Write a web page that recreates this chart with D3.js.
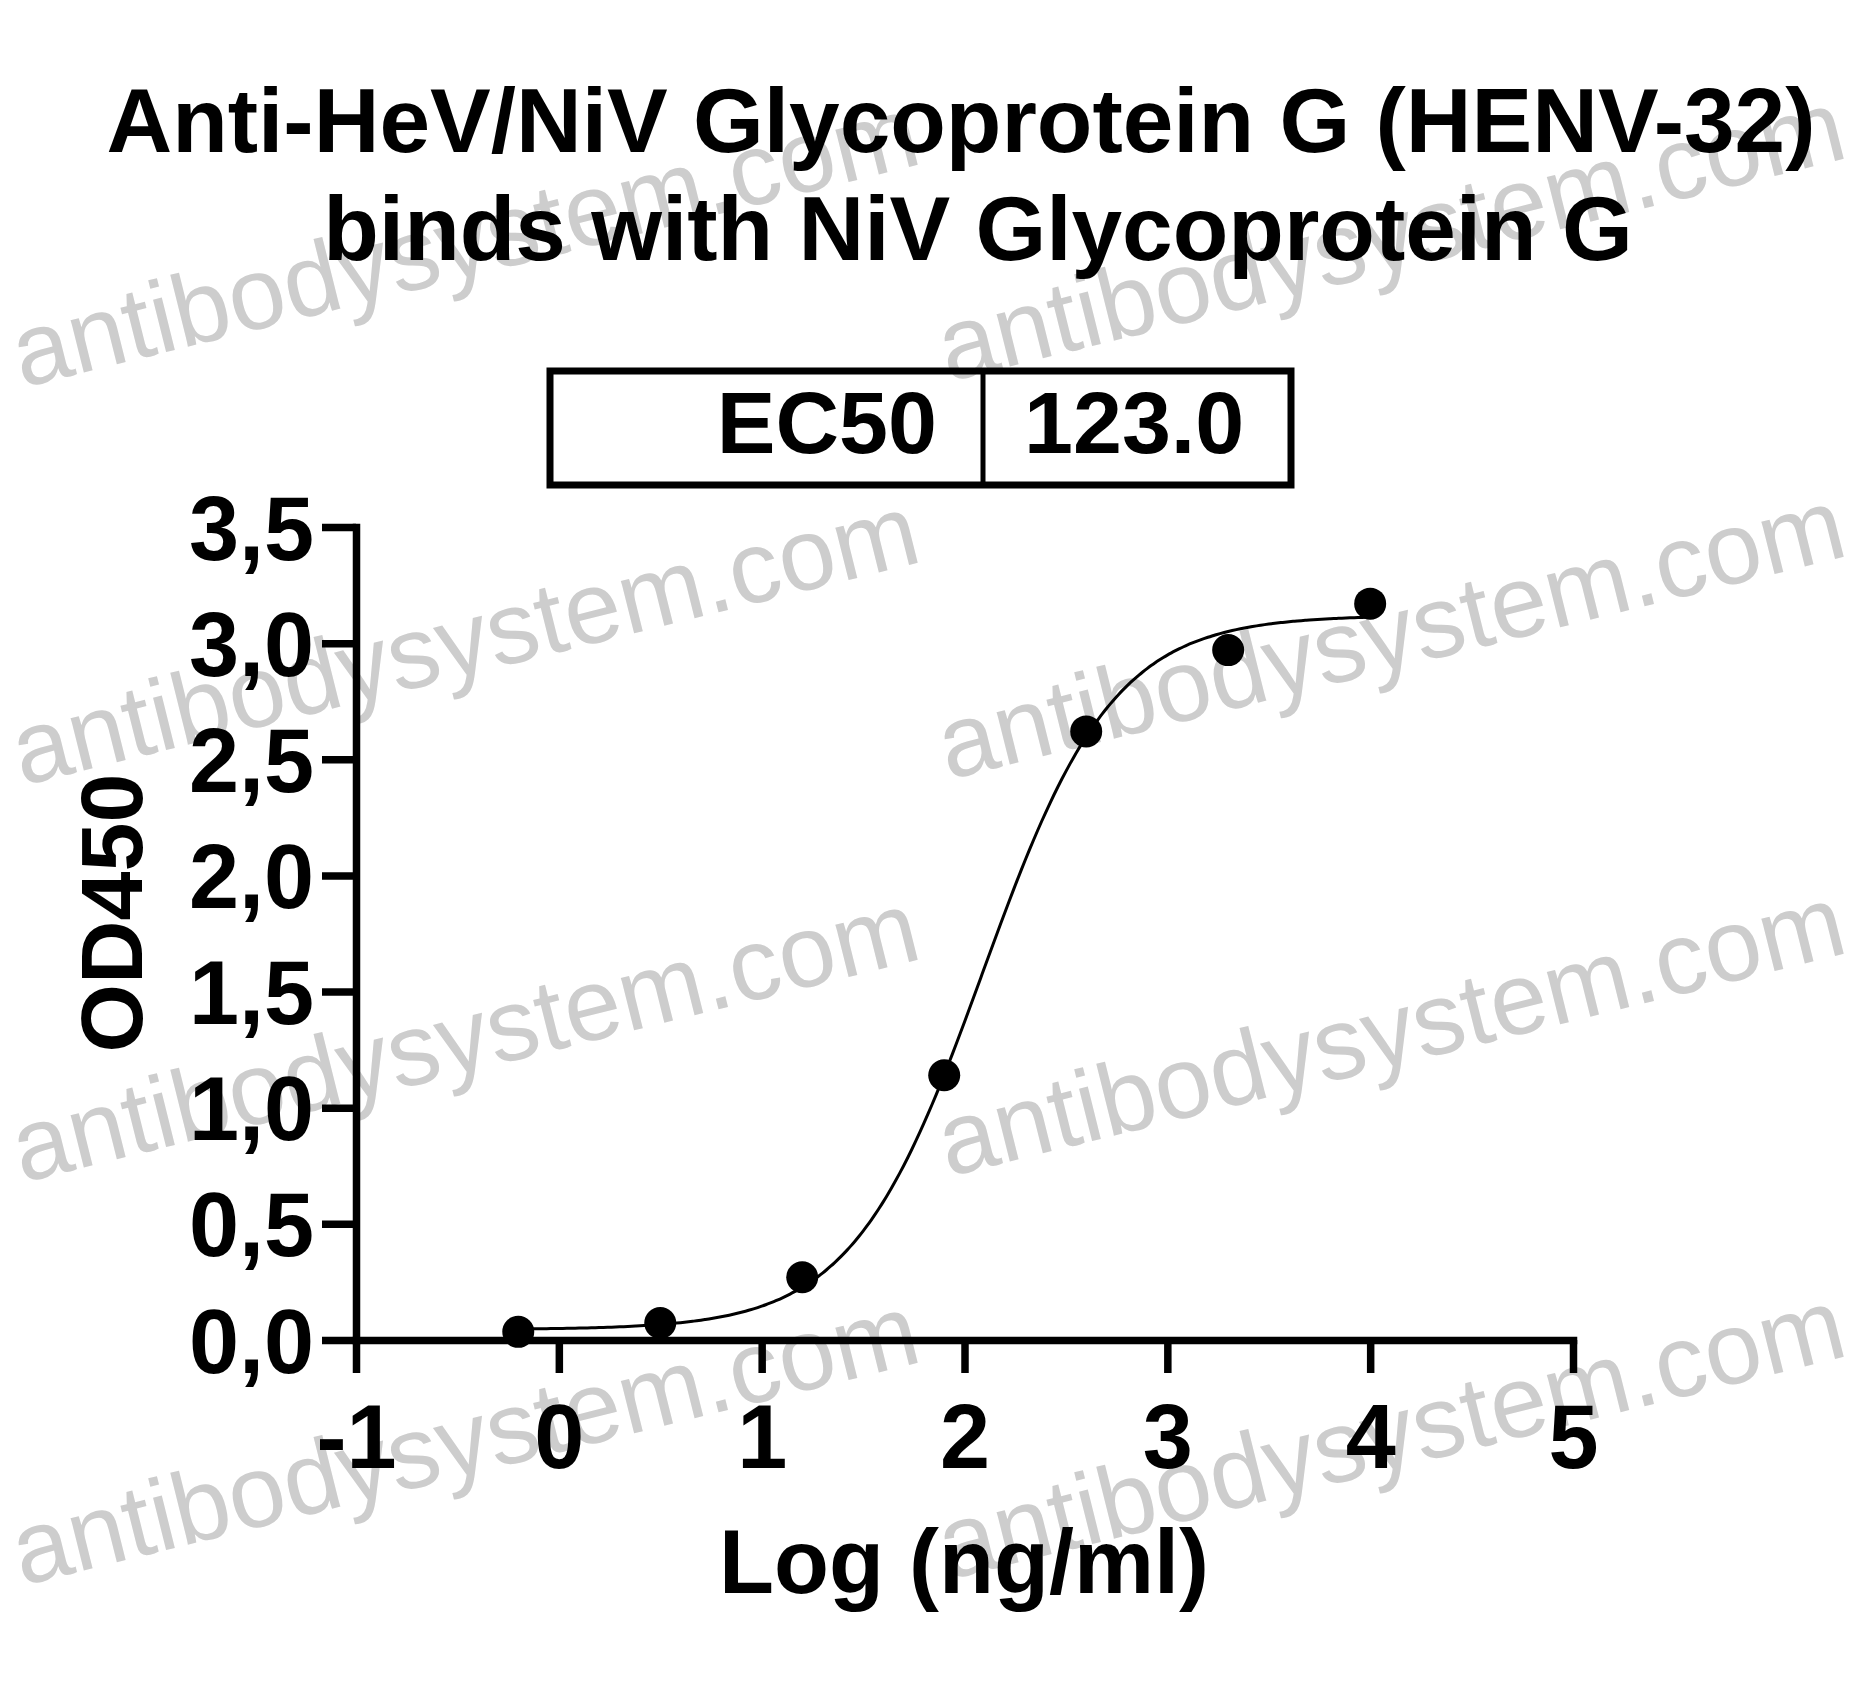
<!DOCTYPE html>
<html>
<head>
<meta charset="utf-8">
<script src="https://cdn.jsdelivr.net/npm/d3@7"></script>
<style>
  html, body { margin: 0; padding: 0; background: #ffffff; }
  svg { display: block; }
  text { font-family: "Liberation Sans", Arial, Helvetica, sans-serif; }
</style>
</head>
<body>
<svg id="chart" width="1873" height="1688"></svg>
<script>
// ---- data ----
const titleLines = ["Anti-HeV/NiV Glycoprotein G (HENV-32)", "binds with NiV Glycoprotein G"];
const xLabel = "Log (ng/ml)";
const yLabel = "OD450";
const ec50Label = "EC50";
const ec50Value = "123.0";
const logConc = [-0.2, 0.5, 1.2, 1.9, 2.6, 3.3, 4.0];
const od450 = [0.035, 0.073, 0.27, 1.14, 2.62, 2.97, 3.17];
const xTicks = [-1, 0, 1, 2, 3, 4, 5];
const xTickLabels = ["-1", "0", "1", "2", "3", "4", "5"];
const yTicks = [0, 0.5, 1.0, 1.5, 2.0, 2.5, 3.0, 3.5];
const yTickLabels = ["0,0", "0,5", "1,0", "1,5", "2,0", "2,5", "3,0", "3,5"];
// fitted 4-parameter logistic curve
const fitBottom = 0.045, fitTop = 3.12, fitLogEC50 = Math.log10(123.0), fitHill = 1.35;
const watermark = "antibodysystem.com";

// ---- layout ----
const svg = d3.select("#chart");
const x = d3.scaleLinear().domain([-1, 5]).range([356, 1573]);
const y = d3.scaleLinear().domain([0, 3.5]).range([1340, 527]);

// watermark (behind everything)
const wmRows = [388, 786, 1183, 1586];
const wmCols = [22, 948];
const wm = svg.append("g");
wmRows.forEach(ry => wmCols.forEach(cx => {
  wm.append("text")
    .attr("transform", `translate(${cx},${ry - (cx > 100 ? 6 : 0)}) rotate(-14)`)
    .attr("font-size", 102)
    .attr("fill", "#cdcdcd")
    .text(watermark);
}));

// title
svg.append("text").attr("x", 961).attr("y", 152).attr("text-anchor", "middle")
  .attr("font-size", 91).attr("font-weight", "bold").attr("fill", "#000").text(titleLines[0]);
svg.append("text").attr("x", 978).attr("y", 260).attr("text-anchor", "middle")
  .attr("font-size", 91).attr("font-weight", "bold").attr("fill", "#000").text(titleLines[1]);

// EC50 box
const box = svg.append("g");
box.append("rect").attr("x", 550).attr("y", 371).attr("width", 741).attr("height", 114)
  .attr("fill", "none").attr("stroke", "#000").attr("stroke-width", 7);
box.append("line").attr("x1", 983).attr("x2", 983).attr("y1", 371).attr("y2", 485)
  .attr("stroke", "#000").attr("stroke-width", 5);
box.append("text").attr("x", 937).attr("y", 453).attr("text-anchor", "end")
  .attr("font-size", 88).attr("font-weight", "bold").text(ec50Label);
box.append("text").attr("x", 1024).attr("y", 453).attr("text-anchor", "start")
  .attr("font-size", 88).attr("font-weight", "bold").text(ec50Value);

// axes
const xAxis = d3.axisBottom(x).tickValues(xTicks).tickSize(33).tickSizeOuter(0)
  .tickFormat((d, i) => xTickLabels[i]);
const yAxis = d3.axisLeft(y).tickValues(yTicks).tickSize(34).tickSizeOuter(0)
  .tickFormat((d, i) => yTickLabels[i]);

const gx = svg.append("g").attr("transform", "translate(0,1340)").call(xAxis);
const gy = svg.append("g").attr("transform", "translate(356,0)").call(yAxis);

[gx, gy].forEach(g => {
  g.select(".domain").attr("stroke", "#000").attr("stroke-width", 7.5).attr("stroke-linecap", "square");
  g.selectAll(".tick line").attr("stroke", "#000").attr("stroke-width", 7.5);
  g.selectAll(".tick text").attr("fill", "#000").attr("font-size", 90).attr("font-weight", "bold")
    .attr("font-family", '"Liberation Sans", Arial, sans-serif');
});
gx.selectAll(".tick text").attr("y", 128).attr("dy", 0);
gy.selectAll(".tick text").attr("x", -42).attr("dy", 0).attr("y", 32);

// axis titles
svg.append("text").attr("x", 964).attr("y", 1593).attr("text-anchor", "middle")
  .attr("font-size", 90).attr("font-weight", "bold").text(xLabel);
svg.append("text").attr("transform", "translate(142,913) rotate(-90)").attr("text-anchor", "middle")
  .attr("font-size", 88).attr("font-weight", "bold").text(yLabel);

// fitted curve
const curveXs = d3.range(logConc[0], logConc[logConc.length - 1] + 0.0001, 0.02);
const fit = v => fitBottom + (fitTop - fitBottom) / (1 + Math.pow(10, (fitLogEC50 - v) * fitHill));
svg.append("path")
  .datum(curveXs)
  .attr("fill", "none").attr("stroke", "#000").attr("stroke-width", 3)
  .attr("d", d3.line().x(d => x(d)).y(d => y(fit(d))).curve(d3.curveBasis));

// points
svg.append("g").selectAll("circle")
  .data(logConc.map((c, i) => ({c, v: od450[i]})))
  .join("circle")
  .attr("cx", d => x(d.c)).attr("cy", d => y(d.v)).attr("r", 16).attr("fill", "#000");
</script>
</body>
</html>
